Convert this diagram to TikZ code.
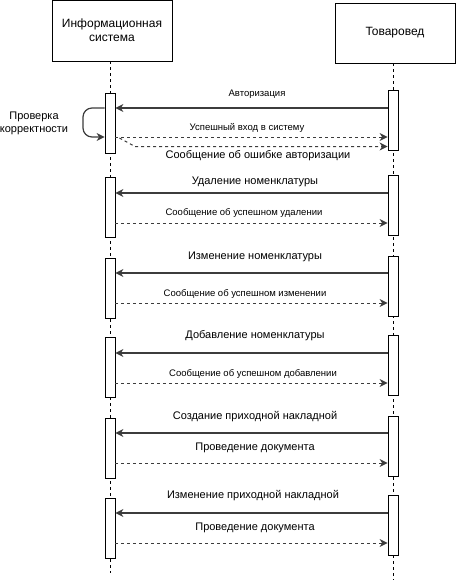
\documentclass[tikz,border=0pt]{standalone}
\usepackage{fontspec}
\setmainfont{Liberation Sans}
\usepackage{tikz}
\usetikzlibrary{arrows.meta,positioning,calc}
\definecolor{ink}{HTML}{000000}
\definecolor{wire}{HTML}{3C3C3C}
\tikzset{
  actorbox/.style={
    rectangle, draw=ink, fill=white, line width=0.8pt,
    minimum width=120pt, minimum height=#1,
    font=\fontsize{12}{14}\selectfont, align=center,
    inner sep=2pt
  },
  actorbox/.default=60pt,
  actbar/.style={
    rectangle, draw=ink, fill=white, line width=0.8pt,
    minimum width=10pt, minimum height=60pt,
    inner sep=0pt, anchor=north
  },
  lifeline/.style={
    draw=ink, line width=0.7pt, dash pattern=on 3pt off 3pt
  },
  callmsg/.style={
    -{Stealth[length=8pt,width=8pt,inset=2.5pt]}, line width=1.2pt, color=wire
  },
  replymsg/.style={
    -{Stealth[length=8pt,width=8pt,inset=2.5pt]}, line width=1pt, color=wire,
    dash pattern=on 3pt off 3pt
  },
  msglbl/.style={
    font=\fontsize{11}{13}\selectfont, inner sep=0pt
  },
  smalllbl/.style={
    font=\fontsize{9.5}{11}\selectfont, inner sep=0pt
  },
}

\begin{document}
\begin{tikzpicture}[x=1pt, y=-1pt]
  \useasboundingbox (0,0) rectangle (456,583);

  % Participants
  \node[actorbox=61pt] (sys) at (112,30.5) {Информационная\\система};
  \node[actorbox] (clerk) at (395,33) {Товаровед};

  % Lifelines
  \coordinate (sysend) at (110,573);
  \coordinate (clerkend) at (393,580);
  \draw[lifeline] (sys.south -| sysend) -- (sysend);
  \draw[lifeline] (clerk.south -| clerkend) -- (clerkend);

  % Authorisation block
  \node[actbar] (l1) at (110,93) {};
  \node[actbar] (r1) at (393,90) {};
  \draw[callmsg] (r1.west |- 0,108) -- (l1.east |- 0,108);
  \node[smalllbl] (cl1) at (257,94) {Авторизация};
  \draw[callmsg, rounded corners=9pt] (l1.west |- 0,108) -- (83,108) -- (83,137) -- (l1.west |- 0,137);
  \node[msglbl, align=center] (chk) at (34,123.5) {Проверка\\корректности};
  \draw[replymsg] (l1.east |- 0,137) -- (r1.west |- 0,137);
  \node[smalllbl] (ok1) at (247,128) {Успешный вход в систему};
  \draw[replymsg] ([xshift=4pt]l1.east |- 0,138) -- (135,146.5) -- (r1.west |- 0,146.5);
  \node[msglbl] (err1) at (258,156) {Сообщение об ошибке авторизации};

  % Remaining request / reply pairs
  \foreach \i/\lt/\rt/\cy/\cx/\cly/\ctext/\ry/\rx/\rly/\rtext/\rf in {
    2/177/175/193/255/182/Удаление номенклатуры/223/244/213/Сообщение об успешном удалении/smalllbl,
    3/258/256/273/255/257/Изменение номенклатуры/303/245/294/Сообщение об успешном изменении/smalllbl,
    4/337/335/353/255/336/Добавление номенклатуры/383/253/374/Сообщение об успешном добавлении/smalllbl,
    5/418/416/433/255/417/Создание приходной накладной/463/255/448/Проведение документа/msglbl,
    6/498/495/513/253/496/Изменение приходной накладной/543/255/528/Проведение документа/msglbl} {
    \node[actbar] (l\i) at (110,\lt) {};
    \node[actbar] (r\i) at (393,\rt) {};
    \draw[callmsg] (r\i.west |- 0,\cy) -- (l\i.east |- 0,\cy);
    \node[msglbl] (cl\i) at (\cx,\cly) {\ctext};
    \draw[replymsg] (l\i.east |- 0,\ry) -- (r\i.west |- 0,\ry);
    \node[\rf] (rl\i) at (\rx,\rly) {\rtext};
  }
\end{tikzpicture}
\end{document}
